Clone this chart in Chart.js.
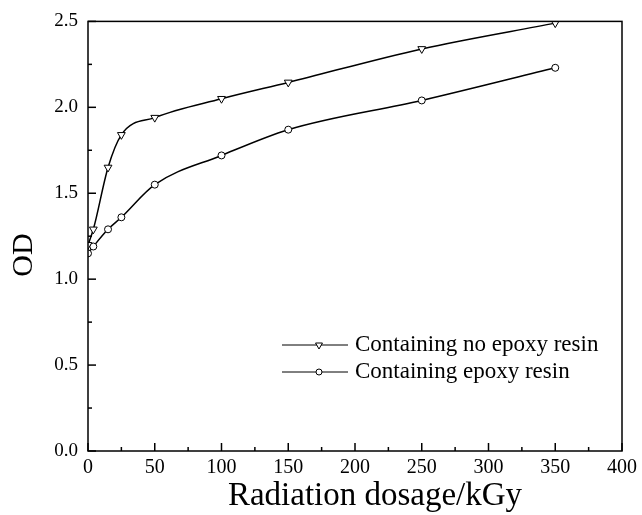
<!DOCTYPE html>
<html lang="en">
<head>
  <meta charset="UTF-8" />
  <title>OD vs Radiation dosage</title>
  <script src="https://cdn.jsdelivr.net/npm/chart.js"></script>
  <style>
    body { margin: 0; background: #fff; }
    #wrap { width: 642px; height: 515px; }
  </style>
</head>
<body>
  <div id="wrap"><canvas id="odChart"></canvas></div>
  <script>
    // dose values (kGy)
    const doseNoEpoxy = [0, 4, 15, 25, 50, 100, 150, 250, 350];
    const odNoEpoxy   = [1.20, 1.29, 1.65, 1.84, 1.94, 2.05, 2.145, 2.34, 2.49];
    const doseEpoxy   = [0, 4, 15, 25, 50, 100, 150, 250, 350];
    const odEpoxy     = [1.15, 1.19, 1.29, 1.36, 1.55, 1.72, 1.87, 2.04, 2.23];
    const seriesNames = ["Containing no epoxy resin", "Containing epoxy resin"];
    const xTitle = "Radiation dosage/kGy";
    const yTitle = "OD";

    const serif = "'Liberation Serif', 'DejaVu Serif', serif";

    const toPoints = (xs, ys) => xs.map((x, i) => ({ x, y: ys[i] }));

    // frame, inward ticks, axis titles and legend
    const decorations = {
      id: "decorations",
      afterDraw(chart) {
        const { ctx, chartArea: a, scales } = chart;
        ctx.save();
        ctx.strokeStyle = "#000";
        ctx.lineWidth = 1.5;
        ctx.strokeRect(a.left, a.top, a.right - a.left, a.bottom - a.top);

        for (let v = 0; v <= 400; v += 25) {
          const px = scales.x.getPixelForValue(v);
          const len = v % 50 === 0 ? 8 : 4;
          ctx.beginPath();
          ctx.moveTo(px, a.bottom);
          ctx.lineTo(px, a.bottom - len);
          ctx.stroke();
        }
        for (let i = 0; i <= 10; i++) {
          const py = scales.y.getPixelForValue(i * 0.25);
          const len = i % 2 === 0 ? 8 : 4;
          ctx.beginPath();
          ctx.moveTo(a.left, py);
          ctx.lineTo(a.left + len, py);
          ctx.stroke();
        }

        ctx.fillStyle = "#000";
        // x title
        ctx.font = "33px " + serif;
        ctx.textAlign = "center";
        ctx.textBaseline = "alphabetic";
        ctx.fillText(xTitle, 375, 505);

        // y title
        ctx.font = "30px " + serif;
        ctx.textBaseline = "middle";
        ctx.translate(24, 255);
        ctx.rotate(-Math.PI / 2);
        ctx.fillText(yTitle, 0, 0);
        ctx.setTransform(1, 0, 0, 1, 0, 0);

        // legend
        const rows = [345, 372];
        chart.data.datasets.forEach((ds, i) => {
          const y = rows[i];
          ctx.strokeStyle = "#000";
          ctx.lineWidth = 1;
          ctx.beginPath();
          ctx.moveTo(282, y);
          ctx.lineTo(348, y);
          ctx.stroke();
          ctx.fillStyle = "#fff";
          Chart.helpers.drawPoint(ctx, {
            pointStyle: ds.pointStyle,
            radius: ds.pointRadius - 0.5,
            rotation: ds.pointRotation || 0,
            borderWidth: 1
          }, 319, y);
          ctx.fillStyle = "#000";
          ctx.font = "23px " + serif;
          ctx.textAlign = "left";
          ctx.textBaseline = "middle";
          ctx.fillText(ds.label, 355, y);
        });
        ctx.restore();
      }
    };

    new Chart(document.getElementById("odChart"), {
      type: "line",
      data: {
        datasets: [
          {
            label: seriesNames[0],
            data: toPoints(doseNoEpoxy, odNoEpoxy),
            borderColor: "#000",
            borderWidth: 1.5,
            pointStyle: "triangle",
            pointRotation: 180,
            pointRadius: 4.5,
            pointBorderWidth: 1,
            pointBorderColor: "#000",
            pointBackgroundColor: "#fff",
            cubicInterpolationMode: "monotone",
            fill: false
          },
          {
            label: seriesNames[1],
            data: toPoints(doseEpoxy, odEpoxy),
            borderColor: "#000",
            borderWidth: 1.5,
            pointStyle: "circle",
            pointRadius: 3.5,
            pointBorderWidth: 1,
            pointBorderColor: "#000",
            pointBackgroundColor: "#fff",
            cubicInterpolationMode: "monotone",
            fill: false
          }
        ]
      },
      options: {
        responsive: true,
        maintainAspectRatio: false,
        animation: false,
        layout: { padding: { top: 21, right: 14, left: 0, bottom: 0 } },
        plugins: { legend: { display: false }, tooltip: { enabled: false } },
        scales: {
          x: {
            type: "linear",
            min: 0,
            max: 400,
            grid: { display: false, drawTicks: false },
            border: { display: false },
            ticks: {
              stepSize: 50,
              color: "#000",
              padding: 5,
              maxRotation: 0,
              font: { family: serif, size: 20 }
            },
            afterFit(scale) { scale.height = 64; }
          },
          y: {
            min: 0,
            max: 2.5,
            grid: { display: false, drawTicks: false },
            border: { display: false },
            ticks: {
              stepSize: 0.5,
              color: "#000",
              padding: 10,
              font: { family: serif, size: 19 },
              callback: v => v.toFixed(1)
            },
            afterFit(scale) { scale.width = 88; }
          }
        }
      },
      plugins: [decorations]
    });
  </script>
</body>
</html>
